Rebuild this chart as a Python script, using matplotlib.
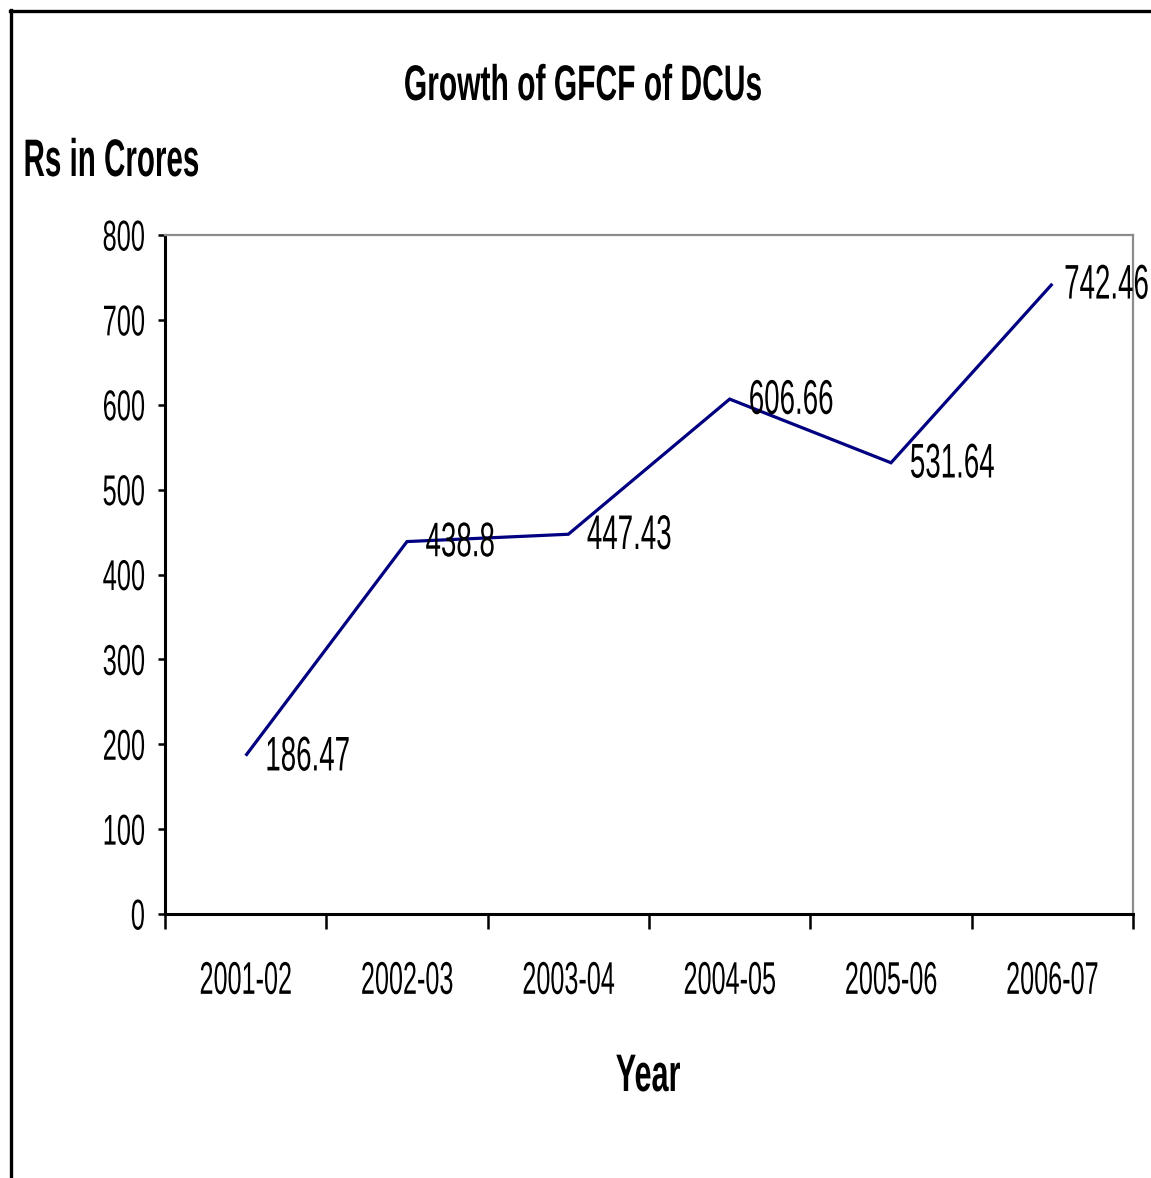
import matplotlib
matplotlib.use("Agg")
import matplotlib.pyplot as plt
from matplotlib.lines import Line2D
from matplotlib.patheffects import AbstractPathEffect
from matplotlib.transforms import Affine2D

# ---------------- data ----------------
years = ["2001-02", "2002-03", "2003-04", "2004-05", "2005-06", "2006-07"]
gfcf = [186.47, 438.8, 447.43, 606.66, 531.64, 742.46]
value_labels = ["186.47", "438.8", "447.43", "606.66", "531.64", "742.46"]
y_ticks = [0, 100, 200, 300, 400, 500, 600, 700, 800]
title = "Growth of GFCF of DCUs"
y_title = "Rs in Crores"
x_title = "Year"


class Squeeze(AbstractPathEffect):
    """Condense glyphs horizontally (narrow font look) around an anchor."""

    def __init__(self, sx, anchor="left"):
        super().__init__()
        self.sx = sx
        self.anchor = anchor

    def draw_path(self, renderer, gc, tpath, affine, rgbFace=None):
        ext = tpath.get_extents()
        if self.anchor == "left":
            x0 = ext.x0
        elif self.anchor == "right":
            x0 = ext.x1
        else:
            x0 = 0.5 * (ext.x0 + ext.x1)
        t = Affine2D().translate(-x0, 0).scale(self.sx, 1).translate(x0, 0) + affine
        renderer.draw_path(gc, tpath, t, rgbFace)


W, H = 1151, 1178
plt.rcParams["font.family"] = ["Liberation Sans", "DejaVu Sans"]
fig = plt.figure(figsize=(W / 100, H / 100), dpi=100)
fig.patch.set_facecolor("white")


def fx(px):
    return px / W


def fy(py):
    return 1 - py / H


ax = fig.add_axes([fx(165), fy(914), fx(1133) - fx(165), fy(235) - fy(914)])

xpos = list(range(len(years)))
ax.plot(xpos, gfcf, color="#000080", lw=2.3, solid_joinstyle="miter",
        solid_capstyle="butt", clip_on=False, zorder=3)

ax.set_xlim(-0.5, len(years) - 0.5)
ax.set_ylim(y_ticks[0], y_ticks[-1])

# y axis
ax.set_yticks(y_ticks)
ax.set_yticklabels([str(v) for v in y_ticks])
ax.tick_params(axis="y", which="major", direction="out", length=5, width=1.8,
               pad=9, labelsize=31, colors="black")
for lbl in ax.get_yticklabels():
    lbl.set_path_effects([Squeeze(0.59, "right")])

# x axis: tick marks at category boundaries, labels at centers
ax.set_xticks([i - 0.5 for i in range(len(years) + 1)])
ax.set_xticklabels([])
ax.set_xticks(xpos, minor=True)
ax.set_xticklabels(years, minor=True)
ax.tick_params(axis="x", which="major", direction="out", length=11, width=1.8)
ax.tick_params(axis="x", which="minor", length=0, pad=33, labelsize=33)
for lbl in ax.get_xticklabels(minor=True):
    lbl.set_path_effects([Squeeze(0.55, "center")])

# spines
for s in ("left", "bottom"):
    ax.spines[s].set_color("black")
    ax.spines[s].set_linewidth(2.2)
for s in ("top", "right"):
    ax.spines[s].set_color("#8c8c8c")
    ax.spines[s].set_linewidth(1.6)

# data labels (kept inside the chart area, like the original)
LABEL_SX = 0.57
labels = []
for xi, v, t in zip(xpos, gfcf, value_labels):
    a = ax.annotate(t, xy=(xi, v), xytext=(13, 2), textcoords="offset points",
                    ha="left", va="center_baseline", fontsize=35, color="black",
                    annotation_clip=False, zorder=4)
    a.set_path_effects([Squeeze(LABEL_SX, "left")])
    labels.append(a)

fig.canvas.draw()
renderer = fig.canvas.get_renderer()
right_limit = W - 3
for a in labels:
    bb = a.get_window_extent(renderer)
    squeezed_right = bb.x0 + LABEL_SX * bb.width
    if squeezed_right > right_limit:
        shift_pt = (squeezed_right - right_limit) * 72 / fig.dpi
        ox, oy = a.xyann
        a.xyann = (ox - shift_pt, oy)

# titles
t1 = fig.text(fx(583), fy(100), title, ha="center", va="baseline",
              fontsize=36, fontweight="bold")
t1.set_path_effects([Squeeze(0.6, "center")])
t2 = fig.text(fx(22), fy(176), y_title, ha="left", va="baseline",
              fontsize=38, fontweight="bold")
t2.set_path_effects([Squeeze(0.56, "left")])
t3 = fig.text(fx(648), fy(1091), x_title, ha="center", va="baseline",
              fontsize=38, fontweight="bold")
t3.set_path_effects([Squeeze(0.58, "center")])

# outer chart-area border (left and top edges visible)
fig.add_artist(Line2D([fx(10), 1], [fy(11), fy(11)], transform=fig.transFigure,
                      color="black", lw=2.4))
fig.add_artist(Line2D([fx(11), fx(11)], [0, fy(10)], transform=fig.transFigure,
                      color="black", lw=2.4))

fig.savefig("out.png", dpi=100, facecolor="white")
